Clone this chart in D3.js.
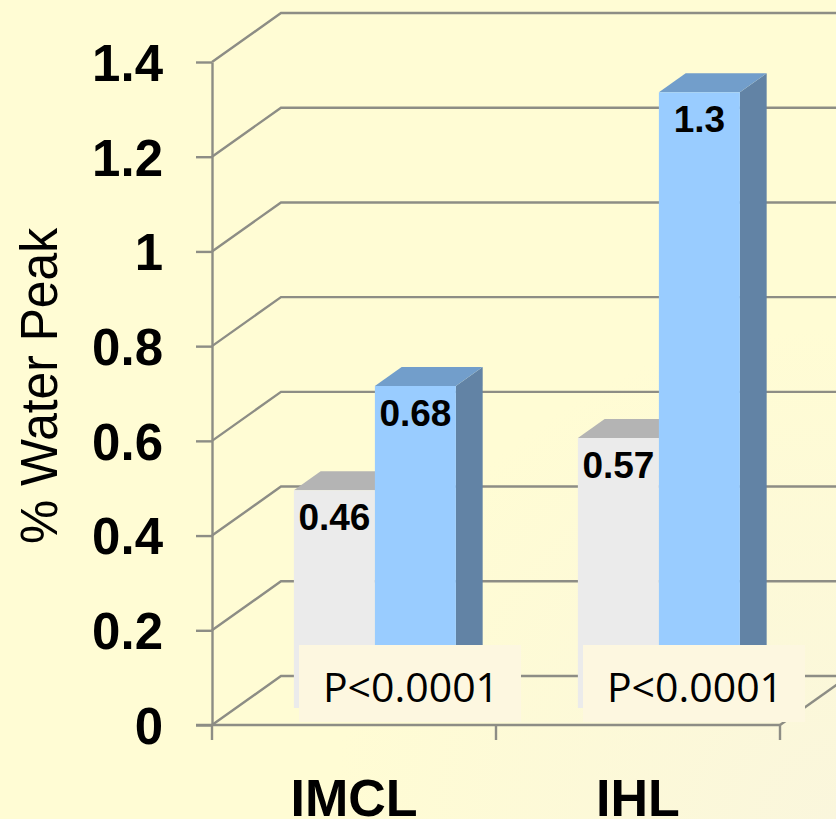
<!DOCTYPE html>
<html>
<head>
<meta charset="utf-8">
<script src="https://cdn.jsdelivr.net/npm/d3@7"></script>
<style>
  html, body { margin: 0; padding: 0; background: #fffcd4; }
  svg { display: block; }
</style>
</head>
<body>
<svg id="chart" width="836" height="819"></svg>
<script>
// Data
const categories = ["IMCL", "IHL"];
const seriesNames = ["Control", "Patient"];
const grayValues = [0.46, 0.57];
const blueValues = [0.68, 1.3];
const pLabels = ["P<0.0001", "P<0.0001"];
const yTicks = [0, 0.2, 0.4, 0.6, 0.8, 1, 1.2, 1.4];
const yTitle = "% Water Peak";

const W = 836, H = 819;
const svg = d3.select("#chart");

// Background with a faint lighter patch toward the lower right
const defs = svg.append("defs");
const rg = defs.append("radialGradient").attr("id", "bg")
  .attr("cx", "1").attr("cy", "1").attr("r", "0.6");
rg.append("stop").attr("offset", "0").attr("stop-color", "#faf6dc");
rg.append("stop").attr("offset", "1").attr("stop-color", "#fffcd4");
svg.append("rect").attr("width", W).attr("height", H).attr("fill", "url(#bg)");

// Scales: values on the front plane, depth pushes up and to the right
const y = d3.scaleLinear().domain([0, 1.4]).range([725, 62]);
const x = d3.scaleBand().domain(categories).range([212, 780]).padding(0);
const x1 = d3.scaleBand().domain(seriesNames).range([0, x.bandwidth()])
  .paddingInner(0).paddingOuter(0.753).align(0.475);
const DEPTH = [69, -49];          // full floor depth offset
const barFront = 0.347, barBack = 0.735;   // bar depth span (fraction of floor depth)
const proj = (px, v, d) => [px + DEPTH[0] * d, y(v) + DEPTH[1] * d];

const gridColor = "#8d8d85";
const right = W + 20;

// Back wall gridlines and left wall diagonals
const grid = svg.append("g").attr("fill", "none").attr("stroke", gridColor).attr("stroke-width", 2.4);
yTicks.forEach(t => {
  const a = proj(x.range()[0], t, 0), b = proj(x.range()[0], t, 1);
  grid.append("path").attr("d", d3.line()([a, b, [right, b[1]]]));
});
// Floor: front edge and right edge
const fl = proj(x.range()[1], 0, 0), fr = proj(x.range()[1], 0, 1);
grid.append("path").attr("d", d3.line()([[196, y(0)], fl]));
grid.append("path").attr("d", d3.line()([fl, fr]));
// Category boundary ticks
[x.range()[0], ...categories.slice(1).map(c => x(c)), x.range()[1]].forEach(px => {
  grid.append("line").attr("x1", px).attr("x2", px).attr("y1", y(0)).attr("y2", y(0) + 15);
});

// Y axis with tick labels
const yAxis = d3.axisLeft(y).tickValues(yTicks).tickSize(16).tickSizeOuter(0)
  .tickPadding(33).tickFormat(d3.format("~g"));
const ya = svg.append("g").attr("transform", `translate(${x.range()[0]},0)`).call(yAxis);
ya.selectAll("path, line").attr("stroke", gridColor).attr("stroke-width", 2.4);
ya.selectAll("text").attr("font-family", "Liberation Sans, Arial, sans-serif")
  .attr("font-weight", "bold").attr("font-size", 51).attr("fill", "#000").attr("dy", "0.36em");

// 3D bars
function drawBar(g, px, w, v, cFront, cTop, cSide) {
  const fTL = proj(px, v, barFront), fTR = proj(px + w, v, barFront);
  const fBR = proj(px + w, 0, barFront), fBL = proj(px, 0, barFront);
  const bTL = proj(px, v, barBack), bTR = proj(px + w, v, barBack);
  const bBR = proj(px + w, 0, barBack);
  const line = d3.line();
  g.append("path").attr("d", line([fTR, bTR, bBR, fBR]) + "Z").attr("fill", cSide);
  g.append("path").attr("d", line([fTL, bTL, bTR, fTR]) + "Z").attr("fill", cTop);
  g.append("path").attr("d", line([fTL, fTR, fBR, fBL]) + "Z").attr("fill", cFront);
  return fTL;
}

const bars = svg.append("g");
const labels = [];
categories.forEach((c, i) => {
  const w = x1.bandwidth();
  const gx = x(c) + x1(seriesNames[0]);
  const bx = x(c) + x1(seriesNames[1]);
  const gTop = drawBar(bars, gx, w, grayValues[i], "#ebebeb", "#b4b4b4", "#c9c9c9");
  labels.push({ x: gTop[0] + w / 2, y: gTop[1], v: grayValues[i] });
  const bTop = drawBar(bars, bx, w, blueValues[i], "#99ccff", "#729ecb", "#6283a5");
  labels.push({ x: bTop[0] + w / 2, y: bTop[1], v: blueValues[i] });
});

// Value labels inside the bar tops
svg.append("g").selectAll("text").data(labels).join("text")
  .attr("x", d => d.x).attr("y", d => d.y + 40)
  .attr("text-anchor", "middle")
  .attr("font-family", "Liberation Sans, Arial, sans-serif")
  .attr("font-weight", "bold").attr("font-size", 37).attr("fill", "#000")
  .text(d => d3.format("~g")(d.v));

// Significance boxes
const pg = svg.append("g");
categories.forEach((c, i) => {
  const cx = x(c) + x.bandwidth() / 2 + 56;
  pg.append("rect").attr("x", cx - 111).attr("y", 645).attr("width", 222).attr("height", 77)
    .attr("fill", "#fdf7e0");
  pg.append("text").attr("x", cx + 1).attr("y", 702).attr("text-anchor", "middle")
    .attr("font-family", "Open Sans, sans-serif").attr("font-size", 41).attr("fill", "#000")
    .text(pLabels[i]);
});

// Category labels
svg.append("g").selectAll("text").data(categories).join("text")
  .attr("x", d => x(d) + x.bandwidth() / 2).attr("y", 816)
  .attr("text-anchor", "middle")
  .attr("font-family", "Liberation Sans, Arial, sans-serif")
  .attr("font-weight", "bold").attr("font-size", 52).attr("fill", "#000")
  .text(d => d);

// Y axis title
svg.append("text")
  .attr("transform", "translate(57,386) rotate(-90)")
  .attr("text-anchor", "middle")
  .attr("font-family", "Liberation Sans, Arial, sans-serif")
  .attr("font-size", 51).attr("fill", "#000")
  .attr("textLength", 316).attr("lengthAdjust", "spacingAndGlyphs")
  .text(yTitle);
</script>
</body>
</html>
